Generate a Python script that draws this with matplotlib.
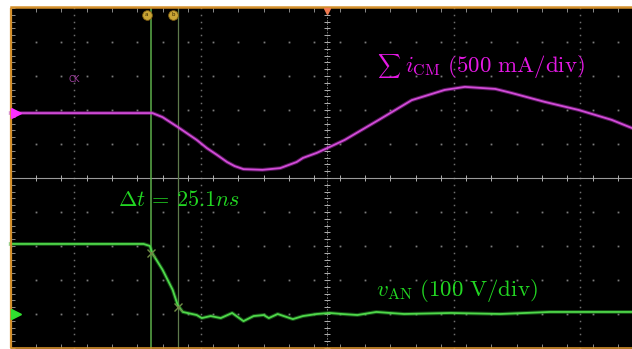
"""
Scope capture: common-mode current sum vs. phase-leg voltage, with cursors.
Axes are in screen divisions (x: 126.5 px/div, y: 34 px/div).
"""
import numpy as np
import matplotlib
matplotlib.use("Agg")
import matplotlib.pyplot as plt

plt.rcParams["mathtext.fontset"] = "cm"

# ---- Data (screen divisions) ---------------------------------------------
# sum of CM currents, magenta trace
icm_t = [-2.50, -1.38, -1.30, -1.18, -1.03, -0.95, -0.87, -0.79, -0.73,
         -0.66, -0.51, -0.37, -0.24, -0.19, -0.08, 0.02, 0.14, 0.41, 0.67,
         0.93, 1.09, 1.33, 1.46, 1.72, 1.99, 2.25, 2.41]
icm_v = [1.91, 1.91, 1.79, 1.50, 1.12, 0.88, 0.68, 0.47, 0.35,
         0.26, 0.24, 0.29, 0.47, 0.59, 0.74, 0.91, 1.12, 1.71, 2.29,
         2.59, 2.68, 2.62, 2.50, 2.24, 2.00, 1.71, 1.47]

# phase-leg voltage v_AN, green trace
van_t = [-2.50, -1.45, -1.40, -1.38, -1.30, -1.22, -1.18, -1.14, -1.03,
         -0.99, -0.92, -0.84, -0.75, -0.66, -0.58, -0.50, -0.46, -0.39,
         -0.27, -0.19, -0.08, 0.02, 0.12, 0.24, 0.39, 0.61, 0.98, 1.37,
         1.76, 2.41]
van_v = [-1.94, -1.94, -2.00, -2.22, -2.70, -3.29, -3.74, -3.94, -4.03,
         -4.12, -4.06, -4.12, -3.97, -4.21, -4.06, -4.03, -4.12, -4.00,
         -4.15, -4.06, -4.00, -3.97, -4.00, -4.03, -3.94, -4.00, -3.97,
         -4.00, -3.94, -3.94]

CURSOR_A = -1.394
CURSOR_B = -1.176
CURSOR_A_V = -2.21
CURSOR_B_V = -3.79
ICM_REF = 1.91
VAN_REF = -4.0

# ---- Figure ----------------------------------------------------------------
fig = plt.figure(figsize=(6.32, 3.49), dpi=100, facecolor="white")
ax = fig.add_axes([0, 0, 1, 1])
ax.set_facecolor("white")
ax.set_xlim(-327 / 126.5, 305 / 126.5)
ax.set_ylim(-171 / 34, 178 / 34)
ax.axis("off")

X0, X1, Y0, Y1 = -2.5, 2.42, -5.0, 5.0
ax.fill_between([X0, X1], Y0, Y1, color="black", zorder=0)

# dotted grid: dots at minor positions along each major line
xm = np.arange(-2.5, 2.45, 0.2)
ym = np.arange(-5.0, 5.01, 0.2)
for gx in [-2, -1, 1, 2]:
    ax.plot(np.full_like(ym, gx), ym, ls="none", marker="s", ms=1.1,
            mec="none", mfc="#6e6e6e", zorder=1)
for gy in [-4, -3, -2, -1, 1, 2, 3, 4]:
    ax.plot(xm, np.full_like(xm, gy), ls="none", marker="s", ms=1.3,
            mec="none", mfc="#7a7a7a", zorder=1)

# centre cross with minor ticks
ax.plot([X0, X1], [0, 0], color="#9a9a9a", lw=0.8, zorder=1)
ax.plot([0, 0], [Y0, Y1], color="#8a8a8a", lw=0.6, ls=(0, (2, 1.5)), zorder=1)
ax.plot(xm, np.zeros_like(xm), ls="none", marker="|", ms=4, mew=0.7,
        color="#b0b0b0", zorder=1)
ax.plot(np.zeros_like(ym), ym, ls="none", marker="_", ms=5, mew=0.7,
        color="#b0b0b0", zorder=1)

# edge ticks
ax.plot(xm, np.full_like(xm, Y1 - 0.07), ls="none", marker="|", ms=3,
        mew=0.6, color="#a0a0a0", zorder=1)
ax.plot(xm, np.full_like(xm, Y0 + 0.07), ls="none", marker="|", ms=3,
        mew=0.6, color="#a0a0a0", zorder=1)
ax.plot(np.full_like(ym, X0 + 0.02), ym, ls="none", marker="_", ms=3,
        mew=0.6, color="#a0a0a0", zorder=1)

# orange screen border
ax.plot([X0, X0], [Y0, Y1], color="#d4902c", lw=1.6, zorder=6,
        solid_capstyle="butt")
ax.plot([X0, X1], [Y1 + 0.04, Y1 + 0.04], color="#d4902c", lw=1.8, zorder=6)
ax.plot([X0, X1], [Y0, Y0], color="#d4902c", lw=1.2, zorder=6)

# cursors
ax.plot([CURSOR_A, CURSOR_A], [Y0, Y1], color="#5cae4a", lw=1.1, zorder=2)
ax.plot([CURSOR_B, CURSOR_B], [Y0, Y1], color="#5e7a4c", lw=0.9, zorder=2)
ax.plot([CURSOR_A, CURSOR_B], [CURSOR_A_V, CURSOR_B_V], ls="none",
        marker="x", ms=6, mew=1.0, color="#6f8a45", zorder=5)
for cx, lab in [(CURSOR_A - 0.03, "a"), (CURSOR_B - 0.04, "b")]:
    ax.plot(cx, 4.8, marker="o", ms=7, mfc="#c9a535", mec="#7a5a10",
            mew=0.6, zorder=6)
    ax.text(cx, 4.8, lab, fontsize=4, color="#3a2a00", ha="center",
            va="center", zorder=7)

# trigger marker at top centre
ax.plot(0, 4.9, marker="v", ms=5, color="#f07a50", zorder=7)

# traces
ax.plot(icm_t, icm_v, color="#b52fbf", lw=2.8, alpha=0.45, zorder=3)
ax.plot(icm_t, icm_v, color="#d24cd8", lw=1.3, zorder=4)
ax.plot(van_t, van_v, color="#2fa82f", lw=2.8, alpha=0.45, zorder=3)
ax.plot(van_t, van_v, color="#4fd84a", lw=1.3, zorder=4)

# channel reference arrows
ax.plot(X0 + 0.04, ICM_REF, marker=">", ms=7, color="#ff30ff", zorder=7)
ax.plot(X0 + 0.04, VAN_REF, marker=">", ms=7, color="#30e030", zorder=7)

ax.text(-2.0, 2.9, "CK", fontsize=6, color="#a040a0", ha="center",
        va="center", zorder=5)

# annotations
ax.text(0.395, 3.28, r"$\sum$", fontsize=11.5, color="#e418e4",
        ha="left", va="center", zorder=8)
ax.text(0.62, 3.28, r"$i_{\mathrm{CM}}\ \mathrm{(500\ mA/div)}$",
        fontsize=16.5, color="#e418e4", ha="left", va="center", zorder=8)
ax.text(-1.65, -0.64, r"$\Delta t\, =\, 25.1ns$",
        fontsize=16, color="#22d622", ha="left", va="center", zorder=8)
ax.text(0.39, -3.3, r"$v_{\mathrm{AN}}\ \mathrm{(100\ V/div)}$",
        fontsize=16.5, color="#22d622", ha="left", va="center", zorder=8)

fig.savefig("out.png", dpi=100, facecolor="white")
